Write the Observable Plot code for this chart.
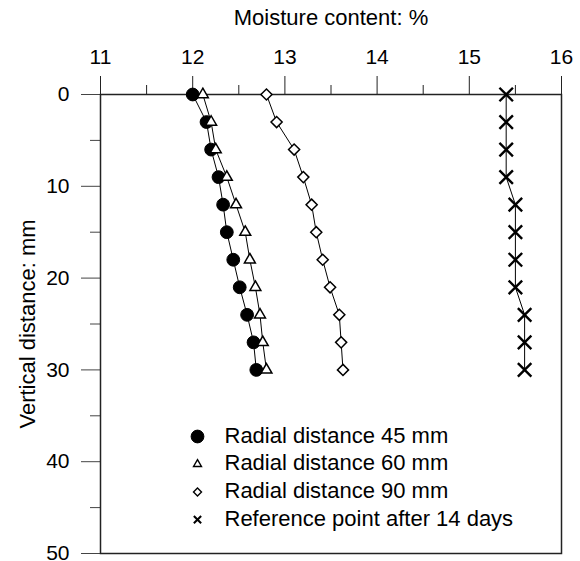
<!DOCTYPE html>
<html><head><meta charset="utf-8">
<script src="https://cdn.jsdelivr.net/npm/d3@7"></script>
<script src="https://cdn.jsdelivr.net/npm/@observablehq/plot@0.6"></script>
<style>body{margin:0;background:#fff;}</style>
</head><body><div id="chart"></div>
<script>
const depth = [0, 3, 6, 9, 12, 15, 18, 21, 24, 27, 30];
const radial45 = [12.00, 12.15, 12.20, 12.28, 12.33, 12.37, 12.44, 12.51, 12.59, 12.66, 12.69];
const radial60 = [12.11, 12.20, 12.25, 12.37, 12.47, 12.57, 12.62, 12.68, 12.73, 12.76, 12.80];
const radial90 = [12.80, 12.91, 13.10, 13.20, 13.29, 13.34, 13.41, 13.49, 13.59, 13.61, 13.63];
const reference14 = [15.40, 15.40, 15.40, 15.40, 15.50, 15.50, 15.50, 15.50, 15.60, 15.60, 15.60];
const seriesNames = ["Radial distance 45 mm", "Radial distance 60 mm", "Radial distance 90 mm", "Reference point after 14 days"];
const xTicks = [11, 12, 13, 14, 15, 16];
const xMinorTicks = [11.5, 12.5, 13.5, 14.5, 15.5];
const yTicks = [0, 10, 20, 30, 40, 50];
const yMinorTicks = [5, 15, 25, 35, 45];
const xLabel = "Moisture content: %";
const yLabel = "Vertical distance: mm";

const seriesValues = [radial45, radial60, radial90, reference14];
const styles = [
  {symbol: "circle", fill: "black", stroke: "black", r: 6.4, strokeWidth: 1, lr: 6.4, lsw: 1},
  {symbol: "triangle2", fill: "white", stroke: "black", r: 5.2, strokeWidth: 1.5, lr: 3.8, lsw: 1.4},
  {symbol: "diamond2", fill: "white", stroke: "black", r: 5.0, strokeWidth: 1.5, lr: 3.6, lsw: 1.4},
  {symbol: "times", fill: "none", stroke: "black", r: 6.2, strokeWidth: 2.4, lr: 3.4, lsw: 2}
];
const data = seriesNames.flatMap((name, s) =>
  depth.map((d, i) => ({series: name, x: seriesValues[s][i], y: d})));

const marks = [
  Plot.axisX(xMinorTicks, {anchor: "top", tickSize: 10, tickFormat: () => "", label: null, stroke: "#222"}),
  Plot.axisX(xTicks, {anchor: "top", tickSize: 19, tickPadding: 12, label: null, stroke: "#222", fontSize: 21}),
  Plot.axisY(yMinorTicks, {anchor: "left", tickSize: 10, tickFormat: () => "", label: null, stroke: "#444"}),
  Plot.axisY(yTicks, {anchor: "left", tickSize: 19, tickPadding: 12, label: null, stroke: "#444", fontSize: 21}),
  Plot.frame({stroke: "#222", strokeWidth: 1.5}),
  Plot.text([xLabel], {frameAnchor: "top", dy: -77, textAnchor: "middle", lineAnchor: "middle", fontSize: 22}),
  Plot.text([yLabel], {frameAnchor: "left", dx: -73, rotate: -90, textAnchor: "middle", lineAnchor: "middle", fontSize: 22}),
  Plot.line(data, {x: "x", y: "y", z: "series", stroke: "black", strokeWidth: 1})
];
seriesNames.forEach((name, s) => {
  const st = styles[s];
  marks.push(Plot.dot(data.filter(d => d.series === name), {
    x: "x", y: "y", symbol: () => st.symbol, r: st.r, fill: st.fill, stroke: st.stroke, strokeWidth: st.strokeWidth
  }));
  // legend row
  marks.push(Plot.dot([name], {frameAnchor: "top-left", dx: 97, dy: 342 + s * 27.7,
    symbol: () => st.symbol, r: st.lr, fill: st.fill, stroke: st.stroke, strokeWidth: st.lsw}));
  marks.push(Plot.text([name], {frameAnchor: "top-left", dx: 124, dy: 341 + s * 27.7,
    textAnchor: "start", lineAnchor: "middle", fontSize: 22, fill: "black"}));
});

const chart = Plot.plot({
  width: 580, height: 561,
  marginLeft: 100, marginRight: 19, marginTop: 94, marginBottom: 8,
  x: {domain: [11, 16]},
  y: {domain: [0, 50], reverse: true},
  style: {fontFamily: "'Liberation Sans', Arial, sans-serif", fontSize: "21px", color: "black", background: "white"},
  marks
});
document.getElementById("chart").append(chart);
</script>
</body></html>
